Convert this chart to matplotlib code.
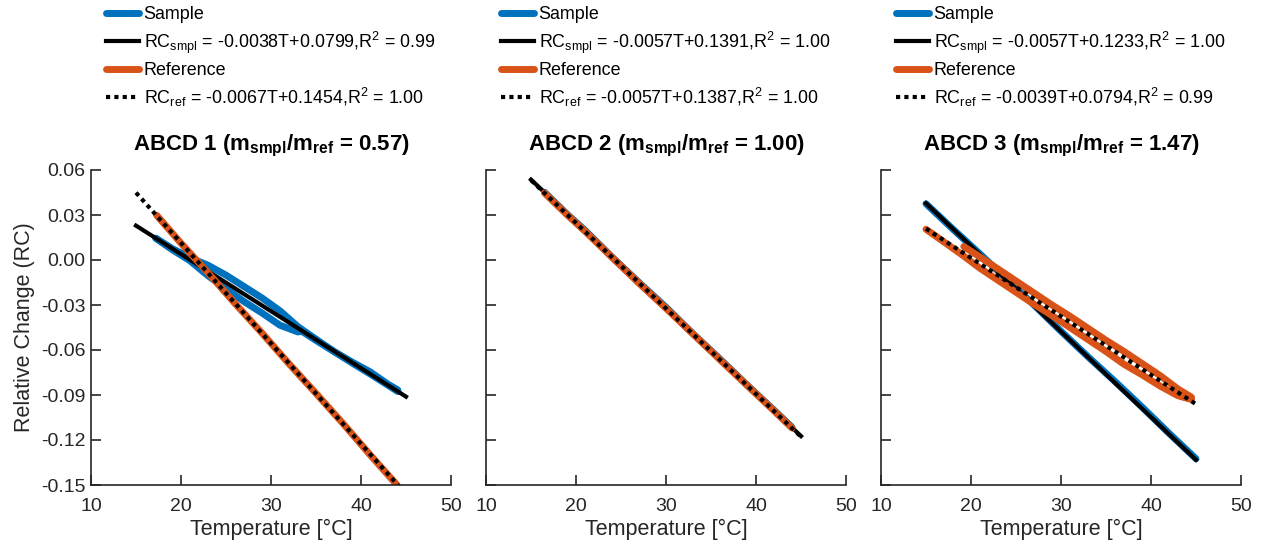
import numpy as np
import matplotlib
matplotlib.use('Agg')
import matplotlib.pyplot as plt

plt.rcParams['font.family'] = 'Liberation Sans'
plt.rcParams['mathtext.fontset'] = 'custom'
plt.rcParams['mathtext.rm'] = 'Liberation Sans'
plt.rcParams['mathtext.bf'] = 'Liberation Sans:bold'
plt.rcParams['mathtext.it'] = 'Liberation Sans:italic'
plt.rcParams['axes.unicode_minus'] = False

# panel titles
titles = ['ABCD 1', 'ABCD 2', 'ABCD 3']
mass_ratio = ['0.57', '1.00', '1.47']

# linear fits: slope, intercept, R^2
smpl_fit = [(-0.0038, 0.0799, '0.99'), (-0.0057, 0.1391, '1.00'), (-0.0057, 0.1233, '1.00')]
ref_fit = [(-0.0067, 0.1454, '1.00'), (-0.0057, 0.1387, '1.00'), (-0.0039, 0.0794, '0.99')]
fit_T = [15, 45]

# measured curves (each panel may have two branches: heating / cooling)
smpl_T = [
    [[17.2, 19, 21, 23, 25, 27, 29, 31, 33, 35, 37, 39, 41, 43, 44.1],
     [17.2, 19, 21, 23, 25, 27, 29, 31, 33, 33.3, 35, 37, 39, 41, 43, 44.1]],
    [[16.5, 19, 21, 24, 27, 30, 33, 36, 39, 42, 44]],
    [[15, 18, 21, 24, 27, 30, 33, 36, 39, 42, 45]],
]
smpl_RC = [
    [[0.0145, 0.0077, 0.0015, -0.0035, -0.0101, -0.0177, -0.0253, -0.0339, -0.0445, -0.0528, -0.0610, -0.0680, -0.0745, -0.0828, -0.0867],
     [0.0145, 0.0070, -0.0005, -0.0105, -0.0191, -0.0277, -0.0353, -0.0435, -0.0480, -0.0470, -0.0536, -0.0610, -0.0686, -0.0759, -0.0835, -0.0877]],
    [[0.0452, 0.0306, 0.0198, 0.0020, -0.0150, -0.0315, -0.0492, -0.0660, -0.0833, -0.1001, -0.1115]],
    [[0.0375, 0.0205, 0.0040, -0.0130, -0.0300, -0.0475, -0.0645, -0.0810, -0.0980, -0.1155, -0.1325]],
]
ref_T = [
    [[17.3, 20, 23, 26, 29, 32, 35, 38, 41, 44]],
    [[16.5, 19, 21, 24, 27, 30, 33, 36, 39, 42, 44]],
    [[15, 17, 19, 21, 23, 25, 27, 29, 31, 33, 35, 37, 39, 41, 43, 44.5],
     [19.2, 21, 23, 25, 27, 29, 31, 33, 35, 37, 39, 41, 43, 44.5]],
]
ref_RC = [
    [[0.0298, 0.0112, -0.0085, -0.0290, -0.0487, -0.0692, -0.0889, -0.1090, -0.1298, -0.1500]],
    [[0.0447, 0.0302, 0.0192, 0.0018, -0.0155, -0.0322, -0.0493, -0.0665, -0.0835, -0.1005, -0.1120]],
    [[0.0205, 0.0120, 0.0035, -0.0055, -0.0135, -0.0215, -0.0295, -0.0370, -0.0450, -0.0530, -0.0610, -0.0695, -0.0765, -0.0840, -0.0905, -0.0930],
     [0.0090, 0.0020, -0.0060, -0.0140, -0.0220, -0.0300, -0.0375, -0.0455, -0.0535, -0.0610, -0.0690, -0.0770, -0.0860, -0.0915]],
]

yticks = [0.06, 0.03, 0.00, -0.03, -0.06, -0.09, -0.12, -0.15]
xticks = [10, 20, 30, 40, 50]

blue = '#0072BD'
orange = '#D95319'
axcol = '#262626'

fig = plt.figure(figsize=(12.62, 5.46), dpi=100)
lefts = [91, 486, 881]
W, H = 1262, 546

for i in range(3):
    ax = fig.add_axes([lefts[i] / W, 1 - 485 / H, 360 / W, 315 / H])
    for t, r in zip(smpl_T[i], smpl_RC[i]):
        hs, = ax.plot(t, r, color=blue, lw=5, solid_capstyle='round', solid_joinstyle='round')
    m, b, r2 = smpl_fit[i]
    tt = np.array(fit_T)
    hsf, = ax.plot(tt, m * tt + b, color='k', lw=3)
    for t, r in zip(ref_T[i], ref_RC[i]):
        hr, = ax.plot(t, r, color=orange, lw=5, solid_capstyle='round', solid_joinstyle='round')
    m2, b2, r22 = ref_fit[i]
    hrf, = ax.plot(tt, m2 * tt + b2, color='k', lw=3, ls=(0, (1, 1)))

    ax.set_xlim(10, 50)
    ax.set_ylim(-0.15, 0.06)
    ax.set_xticks(xticks)
    ax.set_yticks(yticks)
    if i == 0:
        ax.set_yticklabels(['%.2f' % v for v in yticks])
        ax.set_ylabel('Relative Change (RC)', fontsize=15.5, color=axcol, labelpad=4)
    else:
        ax.set_yticklabels([])
    ax.set_xlabel('Temperature [°C]', fontsize=15.5, color=axcol, labelpad=3)
    ax.tick_params(direction='in', length=7, width=1.2, colors=axcol, labelsize=14, pad=4)
    ax.tick_params(axis='x', pad=9.5)
    for s in ['top', 'right']:
        ax.spines[s].set_visible(False)
    for s in ['left', 'bottom']:
        ax.spines[s].set_color(axcol)
        ax.spines[s].set_linewidth(1.2)
    ax.set_title('%s (m$_{\\mathbf{smpl}}$/m$_{\\mathbf{ref}}$ = %s)' % (titles[i], mass_ratio[i]),
                 fontsize=16, fontweight='bold', pad=14)

    labels = ['Sample',
              'RC$_{\\mathrm{smpl}}$ = %.4fT+%.4f,R$^2$ = %s' % (m, b, r2),
              'Reference',
              'RC$_{\\mathrm{ref}}$ = %.4fT+%.4f,R$^2$ = %s' % (m2, b2, r22)]
    ax.legend([hs, hsf, hr, hrf], labels, loc='upper left',
              bbox_to_anchor=((lefts[i] + 15) / W, 1 - 6 / H), bbox_transform=fig.transFigure,
              frameon=False, fontsize=12.9, handlelength=1.85, handletextpad=0.25,
              borderpad=0, borderaxespad=0, labelspacing=0.36)

fig.savefig('out.png', dpi=100)
